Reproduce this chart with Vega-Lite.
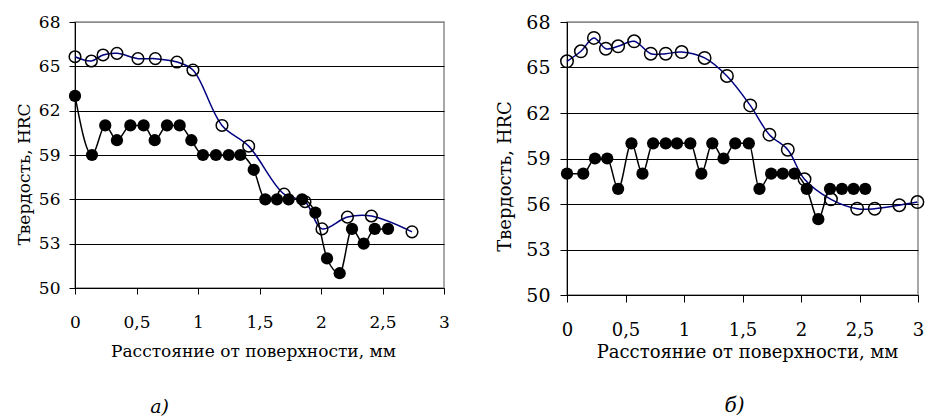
{
  "$schema": "https://vega.github.io/schema/vega-lite/v6.json",
  "background": "white",
  "padding": {"left": 14, "top": 12, "right": 0, "bottom": 0},
  "bounds": "flush",
  "spacing": 123,
  "config": {
    "view": {"stroke": "#8c8c8c", "strokeWidth": 1.5},
    "font": "DejaVu Serif",
    "axis": {
      "labelFont": "DejaVu Serif",
      "titleFont": "DejaVu Serif",
      "labelColor": "black",
      "titleColor": "black",
      "titleFontWeight": "normal",
      "domainColor": "black",
      "tickColor": "black",
      "domainWidth": 1,
      "tickWidth": 1
    }
  },
  "datasets": {
    "a_open": [
      {"x": 0, "y": 65.65}, {"x": 0.133, "y": 65.36}, {"x": 0.228, "y": 65.77}, {"x": 0.341, "y": 65.88},
      {"x": 0.512, "y": 65.52}, {"x": 0.653, "y": 65.52}, {"x": 0.829, "y": 65.29}, {"x": 0.959, "y": 64.75},
      {"x": 1.195, "y": 61.0}, {"x": 1.412, "y": 59.6}, {"x": 1.70, "y": 56.35}, {"x": 1.87, "y": 55.84},
      {"x": 2.008, "y": 54.0}, {"x": 2.215, "y": 54.8}, {"x": 2.41, "y": 54.87}, {"x": 2.74, "y": 53.8}
    ],
    "a_filled": [
      {"x": 0, "y": 63}, {"x": 0.138, "y": 59}, {"x": 0.246, "y": 61}, {"x": 0.341, "y": 60},
      {"x": 0.45, "y": 61}, {"x": 0.558, "y": 61}, {"x": 0.648, "y": 60}, {"x": 0.748, "y": 61},
      {"x": 0.851, "y": 61}, {"x": 0.946, "y": 60}, {"x": 1.04, "y": 59}, {"x": 1.146, "y": 59},
      {"x": 1.25, "y": 59}, {"x": 1.344, "y": 59}, {"x": 1.453, "y": 58}, {"x": 1.547, "y": 56},
      {"x": 1.642, "y": 56}, {"x": 1.737, "y": 56}, {"x": 1.846, "y": 56}, {"x": 1.954, "y": 55.1},
      {"x": 2.049, "y": 52}, {"x": 2.152, "y": 51}, {"x": 2.252, "y": 54}, {"x": 2.347, "y": 53},
      {"x": 2.437, "y": 54}, {"x": 2.545, "y": 54}
    ],
    "b_open": [
      {"x": 0, "y": 65.41}, {"x": 0.119, "y": 66.07}, {"x": 0.23, "y": 66.95}, {"x": 0.332, "y": 66.24},
      {"x": 0.437, "y": 66.4}, {"x": 0.574, "y": 66.73}, {"x": 0.716, "y": 65.91}, {"x": 0.844, "y": 65.91},
      {"x": 0.98, "y": 66.02}, {"x": 1.176, "y": 65.63}, {"x": 1.367, "y": 64.44}, {"x": 1.566, "y": 62.5},
      {"x": 1.73, "y": 60.57}, {"x": 1.887, "y": 59.58}, {"x": 2.03, "y": 57.63}, {"x": 2.256, "y": 56.31},
      {"x": 2.48, "y": 55.69}, {"x": 2.63, "y": 55.69}, {"x": 2.84, "y": 55.92}, {"x": 2.995, "y": 56.13}
    ],
    "b_filled": [
      {"x": 0, "y": 58}, {"x": 0.139, "y": 58}, {"x": 0.239, "y": 59}, {"x": 0.344, "y": 59},
      {"x": 0.437, "y": 57}, {"x": 0.551, "y": 60}, {"x": 0.645, "y": 58}, {"x": 0.736, "y": 60},
      {"x": 0.844, "y": 60}, {"x": 0.94, "y": 60}, {"x": 1.054, "y": 60}, {"x": 1.148, "y": 58},
      {"x": 1.242, "y": 60}, {"x": 1.338, "y": 59}, {"x": 1.438, "y": 60}, {"x": 1.554, "y": 60},
      {"x": 1.645, "y": 57}, {"x": 1.745, "y": 58}, {"x": 1.844, "y": 58}, {"x": 1.944, "y": 58},
      {"x": 2.049, "y": 57}, {"x": 2.148, "y": 55}, {"x": 2.248, "y": 57}, {"x": 2.35, "y": 57},
      {"x": 2.449, "y": 57}, {"x": 2.549, "y": 57}
    ]
  },
  "hconcat": [
    {
      "width": 369,
      "height": 266,
      "title": {"text": "а)", "orient": "bottom", "frame": "group", "anchor": "middle", "dx": -100, "offset": 39, "font": "DejaVu Serif", "fontStyle": "italic", "fontWeight": "normal", "fontSize": 19, "color": "black"},
      "encoding": {
        "x": {"field": "x", "type": "quantitative", "scale": {"domain": [0, 3], "nice": false},
          "axis": {"values": [0, 0.5, 1, 1.5, 2, 2.5, 3], "labelExpr": "replace(format(datum.value, ''), '.', ',')", "grid": false,
            "title": "Расстояние от поверхности, мм", "tickSize": 6, "labelFontSize": 17, "titleFontSize": 17,
            "labelBaseline": "alphabetic", "labelPadding": 33, "labelFlush": false,
            "titleX": 178, "titleY": 68, "titleBaseline": "alphabetic", "titleAlign": "center"}},
        "y": {"field": "y", "type": "quantitative", "scale": {"domain": [50, 68], "nice": false, "zero": false},
          "axis": {"values": [50, 53, 56, 59, 62, 65, 68], "grid": true,
            "gridColor": {"condition": {"test": "datum.value === 68", "value": "#8c8c8c"}, "value": "black"},
            "gridWidth": 1, "tickSize": 6, "labelPadding": 9, "labelFontSize": 17, "titleFontSize": 17,
            "title": "Твердость, HRC", "titleX": -46, "titleY": 152, "titleBaseline": "alphabetic", "titleAlign": "center", "titleAngle": -90}}
      },
      "layer": [
        {"data": {"name": "a_open"}, "mark": {"type": "line", "interpolate": "catmull-rom", "color": "#000080", "strokeWidth": 1.5}},
        {"data": {"name": "a_open"}, "mark": {"type": "point", "shape": "circle", "filled": false, "stroke": "black", "strokeWidth": 1.5, "size": 135, "opacity": 1}},
        {"data": {"name": "a_filled"}, "mark": {"type": "line", "interpolate": "monotone", "color": "black", "strokeWidth": 1.5}},
        {"data": {"name": "a_filled"}, "mark": {"type": "circle", "color": "black", "size": 150, "opacity": 1}}
      ]
    },
    {
      "width": 351,
      "height": 273,
      "title": {"text": "б)", "orient": "bottom", "frame": "group", "anchor": "middle", "dx": -8, "offset": 35, "font": "DejaVu Serif", "fontStyle": "italic", "fontWeight": "normal", "fontSize": 20, "color": "black"},
      "encoding": {
        "x": {"field": "x", "type": "quantitative", "scale": {"domain": [0, 3], "nice": false},
          "axis": {"values": [0, 0.5, 1, 1.5, 2, 2.5, 3], "labelExpr": "replace(format(datum.value, ''), '.', ',')", "grid": false,
            "title": "Расстояние от поверхности, мм", "tickSize": 7, "labelFontSize": 18, "titleFontSize": 18,
            "labelBaseline": "alphabetic", "labelPadding": 33, "labelFlush": false,
            "titleX": 180, "titleY": 62, "titleBaseline": "alphabetic", "titleAlign": "center"}},
        "y": {"field": "y", "type": "quantitative", "scale": {"domain": [50, 68], "nice": false, "zero": false},
          "axis": {"values": [50, 53, 56, 59, 62, 65, 68], "grid": true,
            "gridColor": {"condition": {"test": "datum.value === 68", "value": "#8c8c8c"}, "value": "black"},
            "gridWidth": 1, "tickSize": 7, "labelPadding": 10, "labelFontSize": 19, "titleFontSize": 18,
            "title": "Твердость, HRC", "titleX": -57, "titleY": 154, "titleBaseline": "alphabetic", "titleAlign": "center", "titleAngle": -90}}
      },
      "layer": [
        {"data": {"name": "b_open"}, "mark": {"type": "line", "interpolate": "catmull-rom", "color": "#000080", "strokeWidth": 1.5}},
        {"data": {"name": "b_open"}, "mark": {"type": "point", "shape": "circle", "filled": false, "stroke": "black", "strokeWidth": 1.5, "size": 155, "opacity": 1}},
        {"data": {"name": "b_filled"}, "mark": {"type": "line", "interpolate": "monotone", "color": "black", "strokeWidth": 1.5}},
        {"data": {"name": "b_filled"}, "mark": {"type": "circle", "color": "black", "size": 150, "opacity": 1}}
      ]
    }
  ]
}
